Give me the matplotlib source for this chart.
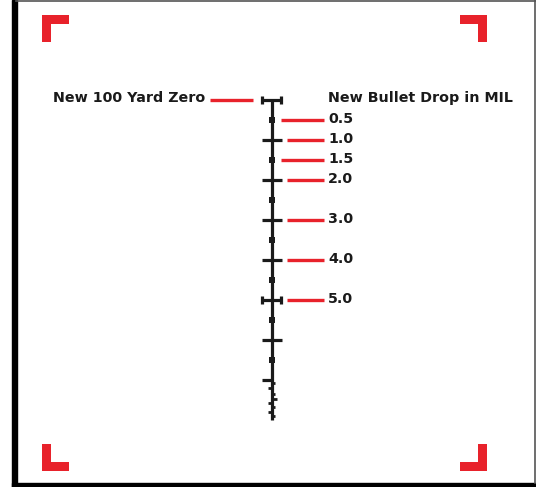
import matplotlib.pyplot as plt
from matplotlib.patches import Rectangle

# reticle values in MIL
long_ticks = [1, 2, 3, 4, 6]
capped_ticks = [0, 5]
dot_ticks = [0.5, 1.5, 2.5, 3.5, 4.5, 5.5, 6.5]
fine_ticks = [7.075, 7.2, 7.35, 7.475, 7.575, 7.675, 7.8, 7.9]
fine_side = [1, -1, 1, 1, -1, 1, -1, 1]
fine_len = [3.5, 3.5, 3.5, 5.5, 3.5, 3.5, 3.5, 3.5]
half_tick = 7
stem_end = 8

drop_mil = [0.5, 1.0, 1.5, 2.0, 3.0, 4.0, 5.0]
drop_labels = ["0.5", "1.0", "1.5", "2.0", "3.0", "4.0", "5.0"]

red = "#E8222B"
ink = "#1a1a1a"

W, H = 536, 487
fig = plt.figure(figsize=(W / 100, H / 100), dpi=100)

# frame + corner brackets, pixel coordinates
bg = fig.add_axes([0, 0, 1, 1])
bg.set_xlim(0, W)
bg.set_ylim(H, 0)
bg.axis("off")
bg.add_patch(Rectangle((12, 0), 4.5, H, color="black"))
bg.add_patch(Rectangle((12, 482.5), W - 12, 4.5, color="black"))
bg.plot([16, W], [0.7, 0.7], color="#555555", lw=1.2)
bg.plot([534.5, 534.5], [0, 483], color="#555555", lw=1.2)
for x0, y0, sx, sy in [(42, 15, 1, 1), (487, 15, -1, 1), (42, 471, 1, -1), (487, 471, -1, -1)]:
    bg.add_patch(Rectangle((min(x0, x0 + 27 * sx), min(y0, y0 + 9 * sy)), 27, 9, color=red, lw=0))
    bg.add_patch(Rectangle((min(x0, x0 + 9 * sx), min(y0, y0 + 27 * sy)), 9, 27, color=red, lw=0))

# reticle axes: x in px, y in MIL (40 px per MIL, zero at py=100)
ax = fig.add_axes([0, 0, 1, 1])
ax.set_xlim(0, W)
ax.set_ylim((H - 100) / 40, -100 / 40)
ax.axis("off")
cx = 271.5
ax.plot([cx, cx], [0, stem_end], color=ink, lw=2.3, solid_capstyle="butt")
for m in long_ticks + capped_ticks:
    ax.plot([cx - 10, cx + 10], [m, m], color=ink, lw=2.3, solid_capstyle="butt")
for m in capped_ticks:
    for ex in (cx - 9.3, cx + 9.3):
        ax.plot([ex, ex], [m - 0.1, m + 0.1], color=ink, lw=2.3, solid_capstyle="butt")
ax.plot([cx] * len(dot_ticks), dot_ticks, "s", color=ink, ms=3.8, mew=0)
ax.plot([cx - 10, cx], [half_tick, half_tick], color=ink, lw=2.3, solid_capstyle="butt")
for m, s, ln in zip(fine_ticks, fine_side, fine_len):
    ax.plot([cx, cx + s * ln], [m, m], color=ink, lw=2.0, solid_capstyle="butt")

# drop indicators
font = dict(fontsize=10.3, fontfamily="DejaVu Sans", fontweight="bold", color=ink)
for m, lab in zip(drop_mil, drop_labels):
    x0 = 281 if m % 1 else 287
    ax.plot([x0, 324], [m, m], color=red, lw=2.4, solid_capstyle="butt")
    ax.text(328, m - 0.02, lab, ha="left", va="center", **font)
ax.plot([210, 253], [0, 0], color=red, lw=2.4, solid_capstyle="butt")
ax.text(205, -0.04, "New 100 Yard Zero", ha="right", va="center", **font)
ax.text(328, -0.04, "New Bullet Drop in MIL", ha="left", va="center", **font)

fig.savefig("out.png", dpi=100, facecolor="white")
